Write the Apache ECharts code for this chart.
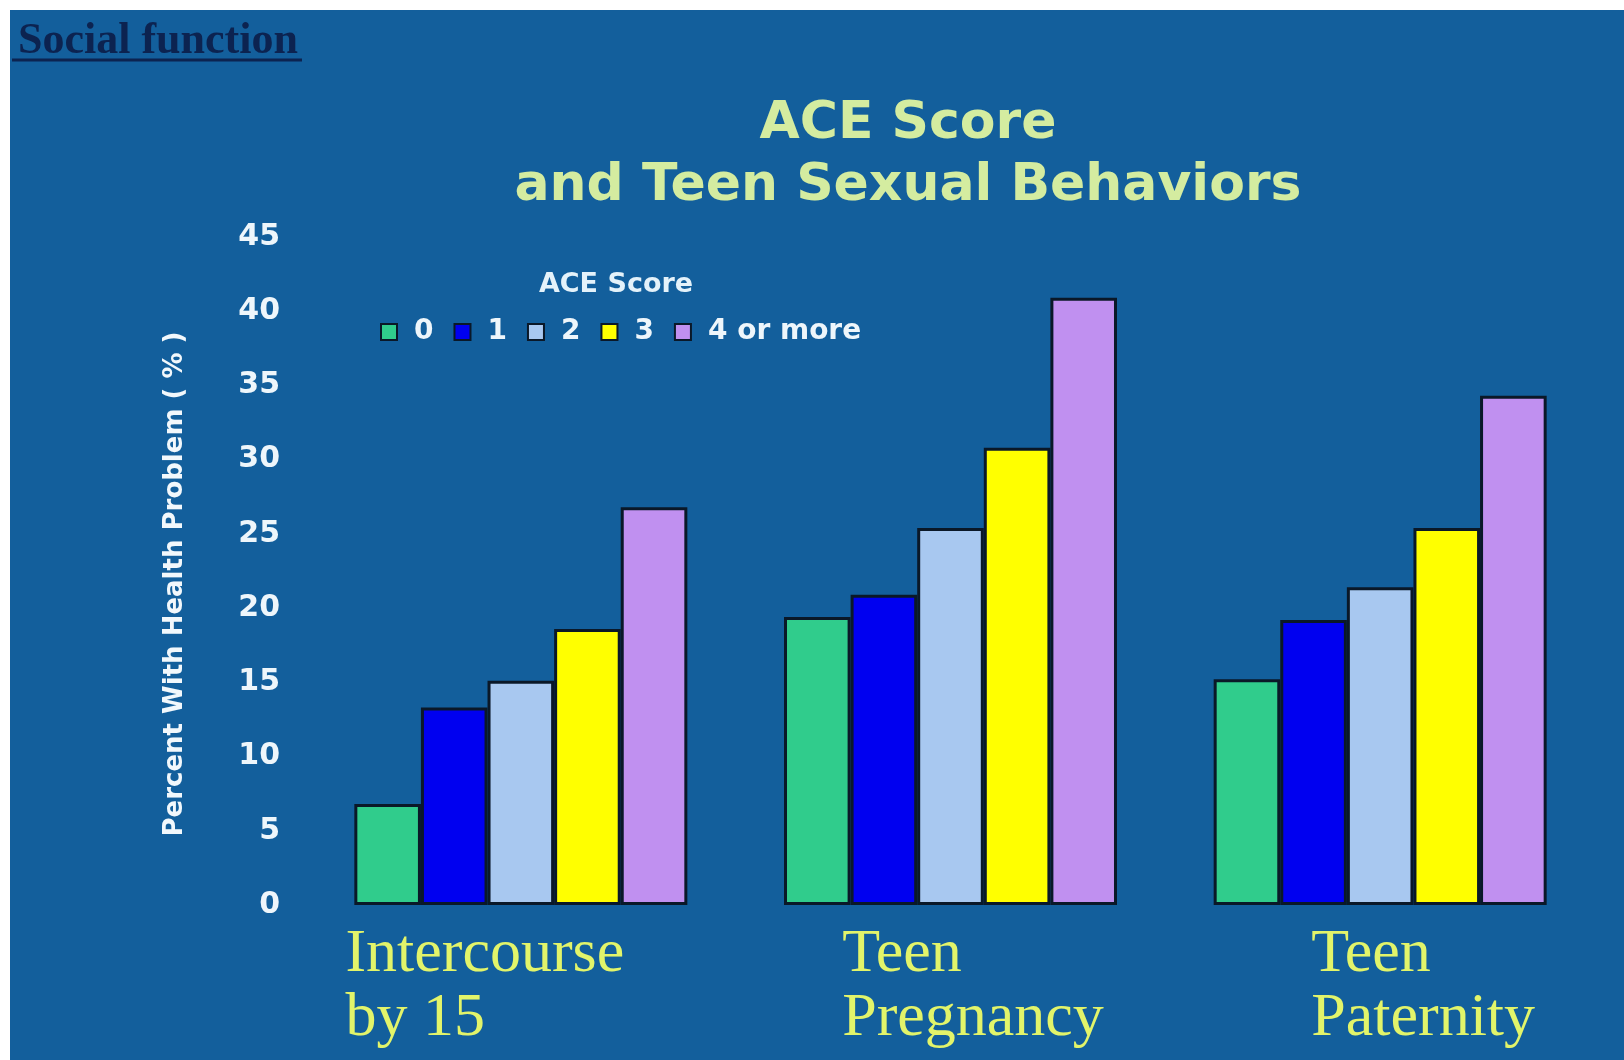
<!DOCTYPE html>
<html>
<head>
<meta charset="utf-8">
<script src="https://cdn.jsdelivr.net/npm/echarts@6/dist/echarts.min.js"></script>
<style>
  html, body { margin: 0; padding: 0; background: #ffffff; overflow: hidden; }
  #chart {
    position: absolute;
    left: 10px;
    top: 10px;
    width: 1614px;
    height: 1050px;
    background: #135f9c;
  }
</style>
</head>
<body>
<div id="chart"></div>
<script>
// data
const categories = ["Intercourse\nby 15", "Teen\nPregnancy", "Teen\nPaternity"];
const scoreNames = ["0", "1", "2", "3", "4 or more"];
const score0 = [6.8, 19.4, 15.2];
const score1 = [13.3, 20.9, 19.2];
const score2 = [15.1, 25.4, 21.4];
const score3 = [18.6, 30.8, 25.4];
const score4 = [26.8, 40.9, 34.3];
const yTicks = { min: 0, max: 45, step: 5 };

const seriesValues = [score0, score1, score2, score3, score4];
const barColors = ["#30cc8c", "#0000f0", "#a8c8f0", "#ffff00", "#c090f0"];
// shift of each category label (the slide had them placed by hand)
const labelPads = [[0, 72, 0, 0], [0, 0, 0, 45], [0, 0, 0, 86]];

const myChart = echarts.init(document.getElementById("chart"));

const boldSans = "DejaVu Sans";

let option = {
  animation: false,
  title: [
    {
      text: "Social function",
      left: 8,
      top: 9,
      padding: 0,
      textStyle: {
        fontFamily: "Liberation Serif",
        fontWeight: "bold",
        fontSize: 44,
        lineHeight: 46,
        color: "#0c2350",
      },
    },
    {
      text: "ACE Score\nand Teen Sexual Behaviors",
      left: 898,
      top: 83,
      padding: 0,
      textAlign: "center",
      textStyle: {
        fontFamily: boldSans,
        fontWeight: "bold",
        fontSize: 52,
        lineHeight: 62,
        color: "#d4eca0",
      },
    },
    {
      // legend heading
      text: "ACE Score",
      left: 606,
      top: 260,
      padding: 0,
      textAlign: "center",
      textStyle: {
        fontFamily: boldSans,
        fontWeight: "bold",
        fontSize: 27,
        lineHeight: 30,
        color: "#e4f2fa",
      },
    },
  ],
  graphic: [
    {
      type: "line",
      shape: { x1: 2, y1: 50, x2: 292, y2: 50 },
      style: { stroke: "#0c2350", lineWidth: 3 },
    },
  ],
  legend: {
    left: 365,
    top: 303,
    itemWidth: 16,
    itemHeight: 16,
    itemGap: 20,
    icon: "rect",
    itemStyle: { borderColor: "#0a1828", borderWidth: 2 },
    textStyle: {
      fontFamily: boldSans,
      fontWeight: "bold",
      fontSize: 28,
      color: "#eef6fb",
      padding: [0, 0, 0, 12],
    },
    data: scoreNames,
  },
  grid: {
    left: 296,
    right: 29,
    top: 227,
    bottom: 155,
    containLabel: false,
    outerBoundsMode: "none",
  },
  xAxis: {
    type: "category",
    data: categories.map(function (c, i) {
      return { value: c, textStyle: { padding: labelPads[i] } };
    }),
    axisLine: { show: false },
    axisTick: { show: false },
    axisLabel: {
      interval: 0,
      margin: 18,
      formatter: function (v) {
        return v
          .split("\n")
          .map(function (s) {
            return "{a|" + s + "}";
          })
          .join("\n");
      },
      rich: {
        a: {
          align: "left",
          fontFamily: "Liberation Serif",
          fontSize: 62,
          lineHeight: 64,
          color: "#e2f46a",
        },
      },
    },
  },
  yAxis: {
    type: "value",
    min: yTicks.min,
    max: yTicks.max,
    interval: yTicks.step,
    name: "Percent With Health Problem ( % )",
    nameLocation: "middle",
    nameRotate: 90,
    nameGap: 118,
    nameTextStyle: {
      fontFamily: boldSans,
      fontWeight: "bold",
      fontSize: 26,
      color: "#f2f8fc",
      padding: [0, 26, 0, 0],
    },
    axisLine: { show: false },
    axisTick: { show: false },
    splitLine: { show: false },
    axisLabel: {
      margin: 26,
      fontFamily: boldSans,
      fontWeight: "bold",
      fontSize: 30,
      color: "#eef6fb",
    },
  },
  series: seriesValues.map(function (vals, i) {
    return {
      name: scoreNames[i],
      type: "bar",
      data: vals,
      barGap: "0%",
      barCategoryGap: "22.5%",
      itemStyle: {
        color: barColors[i],
        borderColor: "#0a1828",
        borderWidth: 3,
      },
    };
  }),
};

option && myChart.setOption(option);
</script>
</body>
</html>
